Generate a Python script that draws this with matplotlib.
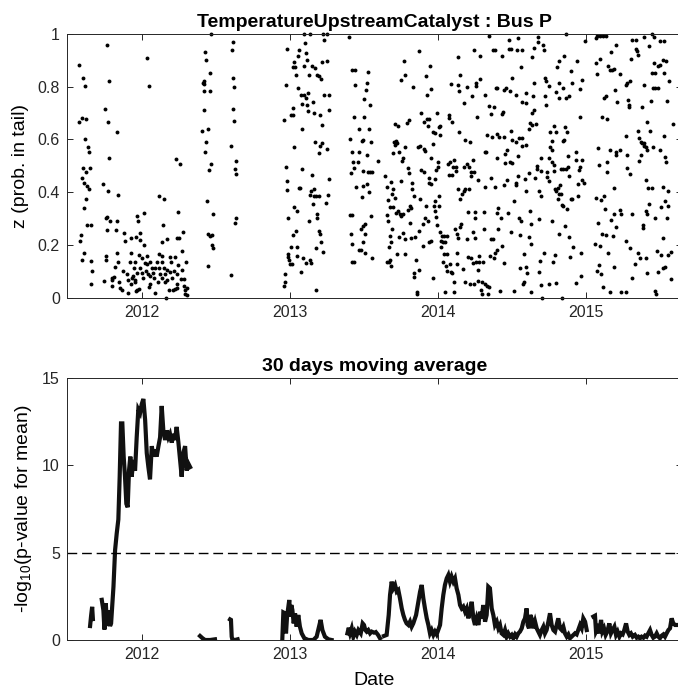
import numpy as np
import matplotlib.pyplot as plt

plt.rcParams['font.family'] = ['Liberation Sans', 'DejaVu Sans']
plt.rcParams['mathtext.default'] = 'regular'

# top panel: daily z values (decimal year, prob. in tail)
pts = [
    # summer 2011 - spring 2012
    (2011.768, .959), (2011.577, .882), (2012.038, .909), (2011.604, .833), (2011.617, .801),
    (2011.777, .820), (2012.047, .804), (2011.752, .715), (2011.579, .667), (2011.599, .681),
    (2011.626, .676), (2011.773, .668), (2011.833, .628), (2011.615, .601), (2011.637, .570),
    (2011.642, .551), (2011.782, .529), (2012.230, .527), (2012.259, .508), (2011.601, .491),
    (2011.651, .491), (2011.624, .476), (2011.597, .453), (2011.613, .434), (2011.628, .425),
    (2011.644, .413), (2011.741, .432), (2011.775, .404), (2011.838, .391), (2012.117, .387),
    (2012.151, .376), (2011.622, .376), (2011.608, .342), (2012.248, .325), (2012.014, .323),
    (2011.971, .309), (2011.764, .305), (2011.757, .301), (2011.784, .292), (2011.831, .289),
    (2011.977, .291), (2011.628, .276), (2011.655, .276), (2012.146, .276), (2011.764, .258),
    (2011.827, .256), (2011.878, .244), (2011.928, .225), (2011.962, .229), (2011.986, .246),
    (2011.592, .238), (2012.282, .251), (2012.255, .225), (2012.241, .225), (2012.173, .224),
    (2012.137, .213), (2011.583, .215), (2011.887, .215), (2011.991, .218), (2012.014, .200),
    (2012.275, .177), (2011.608, .171), (2011.757, .159), (2011.833, .171), (2011.926, .171),
    (2011.984, .162), (2012.002, .149), (2012.034, .158), (2012.115, .166), (2012.140, .158),
    (2012.191, .156), (2012.225, .156), (2011.595, .143), (2011.761, .143), (2011.658, .138),
    (2011.842, .137), (2011.919, .134), (2011.957, .135), (2012.020, .130), (2012.038, .127),
    (2012.056, .137), (2012.106, .134), (2012.137, .134), (2012.200, .134), (2012.248, .124),
    (2012.300, .137), (2011.818, .116), (2011.874, .101), (2011.948, .111), (2011.989, .114),
    (2012.027, .101), (2012.070, .113), (2012.092, .114), (2012.115, .111), (2012.149, .114),
    (2012.169, .105), (2012.221, .101), (2012.273, .105), (2011.662, .103), (2011.797, .076),
    (2011.815, .078), (2011.903, .089), (2011.939, .084), (2011.968, .094), (2012.002, .092),
    (2012.041, .089), (2012.077, .092), (2012.124, .089), (2012.158, .089), (2012.191, .099),
    (2012.241, .089), (2011.908, .068), (2011.935, .073), (2011.955, .067), (2012.011, .073),
    (2012.056, .084), (2012.083, .073), (2012.140, .073), (2012.169, .067), (2012.207, .076),
    (2012.264, .071), (2012.284, .071), (2011.748, .062), (2011.802, .067), (2011.849, .058),
    (2011.928, .051), (2011.953, .058), (2012.056, .051), (2012.113, .058), (2012.160, .061),
    (2012.236, .051), (2012.286, .046), (2011.660, .053), (2011.797, .043), (2011.854, .035),
    (2011.869, .029), (2011.910, .016), (2011.966, .029), (2011.980, .032), (2012.052, .042),
    (2012.090, .016), (2012.182, .029), (2012.214, .029), (2012.227, .033), (2012.241, .035),
    (2012.293, .029), (2012.309, .035), (2012.291, .013), (2012.304, .011), (2012.164, .000),
    (2011.962, .027),
    # summer 2012
    (2012.468, 1.0), (2012.615, .968), (2012.610, .941), (2012.430, .930), (2012.437, .900),
    (2012.464, .854), (2012.419, .820), (2012.414, .814), (2012.423, .811), (2012.419, .782),
    (2012.459, .782), (2012.615, .833), (2012.624, .799), (2012.421, .713), (2012.619, .716),
    (2012.626, .671), (2012.410, .633), (2012.448, .638), (2012.435, .592), (2012.606, .575),
    (2012.428, .551), (2012.640, .519), (2012.466, .508), (2012.453, .484), (2012.631, .489),
    (2012.635, .468), (2012.441, .368), (2012.482, .318), (2012.635, .304), (2012.631, .284),
    (2012.446, .242), (2012.459, .235), (2012.473, .239), (2012.475, .200), (2012.480, .187),
    (2012.446, .122), (2012.606, .086),
    # winter 2012/13
    (2013.095, 1.0), (2013.135, 1.0), (2013.225, 1.0), (2013.252, 1.0), (2013.106, .966),
    (2013.234, .976), (2012.980, .943), (2013.065, .941), (2013.113, .929), (2013.056, .915),
    (2013.029, .894), (2013.117, .900), (2013.025, .876), (2013.038, .876), (2013.097, .878),
    (2013.153, .878), (2013.173, .870), (2013.221, .895), (2013.250, .899), (2013.043, .844),
    (2013.133, .843), (2013.185, .843), (2013.196, .839), (2013.212, .829), (2012.973, .806),
    (2013.054, .797), (2013.077, .770), (2013.095, .770), (2013.108, .759), (2013.122, .776),
    (2013.234, .770), (2013.264, .770), (2013.025, .719), (2013.009, .694), (2013.020, .692),
    (2013.081, .734), (2013.117, .732), (2013.160, .741), (2013.124, .709), (2013.162, .699),
    (2013.203, .694), (2013.264, .713), (2012.962, .672), (2013.221, .654), (2013.081, .641),
    (2013.171, .590), (2013.203, .575), (2013.218, .586), (2013.029, .570), (2013.252, .563),
    (2013.196, .547), (2012.977, .494), (2013.086, .489), (2013.153, .467), (2013.266, .449),
    (2012.982, .441), (2012.984, .410), (2013.063, .415), (2013.070, .415), (2013.167, .411),
    (2013.146, .403), (2013.137, .391), (2013.162, .386), (2013.180, .387), (2013.200, .386),
    (2013.259, .391), (2013.158, .357), (2013.248, .361), (2013.032, .343), (2013.050, .327),
    (2013.187, .318), (2013.185, .304), (2012.991, .304), (2013.131, .292), (2013.043, .254),
    (2013.025, .238), (2013.196, .254), (2013.207, .241), (2013.212, .213), (2013.009, .194),
    (2013.050, .194), (2013.178, .190), (2013.227, .173), (2012.986, .167), (2012.986, .154),
    (2012.995, .143), (2013.005, .128), (2013.018, .128), (2013.050, .158), (2013.088, .151),
    (2013.110, .133), (2013.140, .143), (2013.146, .130), (2013.074, .099), (2012.968, .089),
    (2012.968, .061), (2012.964, .044), (2013.180, .029),
    # late spring 2013
    (2013.403, .989), (2013.423, .865), (2013.439, .862), (2013.444, .806), (2013.435, .687),
    (2013.466, .639), (2013.408, .603), (2013.423, .551), (2013.471, .554), (2013.430, .513),
    (2013.464, .513), (2013.435, .491), (2013.414, .472), (2013.446, .418), (2013.408, .314),
    (2013.421, .314), (2013.414, .241), (2013.421, .204), (2013.471, .181), (2013.423, .137),
    (2013.437, .137),
    # mid 2013 - mid 2014
    (2013.532, .856), (2013.525, .815), (2013.514, .789), (2013.505, .754), (2013.543, .732),
    (2013.502, .685), (2013.536, .641), (2013.489, .595), (2013.498, .597), (2013.547, .590),
    (2013.520, .542), (2013.597, .520), (2013.498, .482), (2013.527, .476), (2013.543, .476),
    (2013.554, .475), (2013.525, .433), (2013.498, .422), (2013.536, .399), (2013.489, .380),
    (2013.547, .308), (2013.509, .280), (2013.495, .272), (2013.482, .259), (2013.507, .241),
    (2013.493, .213), (2013.480, .181), (2013.509, .171), (2013.554, .149), (2013.773, .896),
    (2013.872, .934), (2013.946, .878), (2013.782, .843), (2013.755, .825), (2013.919, .839),
    (2013.833, .799), (2013.955, .790), (2013.928, .767), (2013.885, .699), (2013.995, .700),
    (2013.806, .672), (2013.791, .662), (2013.930, .677), (2013.939, .677), (2013.908, .665),
    (2013.714, .658), (2013.734, .651), (2013.935, .652), (2014.077, .694), (2014.079, .681),
    (2014.095, .667), (2014.018, .652), (2014.007, .649), (2013.966, .630), (2013.982, .625),
    (2014.016, .618), (2014.142, .627), (2014.187, .599), (2014.216, .589), (2013.703, .592),
    (2013.718, .595), (2013.725, .586), (2013.714, .578), (2013.782, .570), (2013.865, .572),
    (2013.883, .576), (2013.905, .565), (2013.917, .557), (2013.966, .582), (2013.700, .547),
    (2013.736, .551), (2013.764, .529), (2013.757, .520), (2013.957, .528), (2014.005, .513),
    (2014.072, .506), (2014.083, .516), (2014.110, .523), (2014.104, .495), (2014.124, .481),
    (2014.124, .494), (2014.178, .495), (2014.196, .506), (2014.209, .496), (2014.241, .523),
    (2013.800, .490), (2013.809, .472), (2013.887, .485), (2013.908, .478), (2013.989, .485),
    (2014.000, .495), (2014.074, .467), (2014.097, .466), (2014.223, .463), (2014.227, .477),
    (2014.243, .475), (2013.646, .463), (2013.655, .420), (2013.682, .437), (2013.698, .411),
    (2013.694, .395), (2013.750, .442), (2013.829, .435), (2013.944, .453), (2013.939, .435),
    (2013.955, .433), (2013.984, .451), (2014.270, .447), (2013.829, .411), (2013.838, .384),
    (2013.881, .376), (2014.007, .387), (2013.980, .365), (2013.973, .348), (2014.011, .346),
    (2013.712, .377), (2013.664, .370), (2013.676, .343), (2013.696, .343), (2013.716, .320),
    (2013.732, .327), (2013.745, .318), (2013.752, .309), (2013.768, .316), (2013.802, .332),
    (2013.811, .349), (2013.818, .339), (2013.660, .314), (2013.662, .291), (2013.691, .259),
    (2013.678, .233), (2013.673, .194), (2013.682, .213), (2013.741, .232), (2013.764, .244),
    (2013.777, .223), (2013.815, .284), (2013.822, .228), (2013.845, .230), (2013.874, .254),
    (2013.921, .346), (2013.899, .280), (2013.914, .301), (2013.932, .289), (2013.980, .330),
    (2013.989, .305), (2013.998, .276), (2013.955, .215), (2013.941, .211), (2013.901, .196),
    (2014.140, .411), (2014.151, .373), (2014.164, .395), (2014.176, .405), (2014.187, .411),
    (2014.209, .414), (2014.203, .324), (2014.255, .324), (2014.313, .324), (2014.252, .301),
    (2014.158, .280), (2014.151, .270), (2014.117, .259), (2014.133, .241), (2014.140, .225),
    (2014.016, .251), (2014.029, .235), (2014.041, .233), (2014.061, .235), (2014.023, .215),
    (2014.034, .211), (2014.052, .211), (2014.023, .194), (2014.045, .165), (2014.063, .166),
    (2014.128, .170), (2014.038, .134), (2014.059, .122), (2014.083, .128), (2014.128, .129),
    (2014.090, .099), (2014.061, .103), (2014.095, .092), (2014.173, .109), (2014.203, .153),
    (2014.223, .149), (2014.241, .130), (2014.259, .135), (2014.282, .135), (2014.304, .134),
    (2014.270, .105), (2014.196, .224), (2014.239, .249), (2014.252, .225), (2014.313, .259),
    (2014.277, .158), (2014.216, .053), (2014.187, .058), (2014.245, .051), (2014.275, .065),
    (2014.297, .058), (2014.318, .051), (2014.336, .046), (2014.345, .042), (2014.113, .059),
    (2014.113, .023), (2014.052, .020), (2014.293, .028), (2014.300, .015), (2014.342, .013),
    (2014.421, .027), (2013.678, .142), (2013.669, .134), (2013.685, .122), (2013.658, .137),
    (2013.851, .143), (2013.874, .105), (2013.838, .095), (2013.838, .077), (2013.968, .076),
    (2013.858, .023), (2013.863, .015), (2013.723, .167), (2013.782, .167), (2014.140, .911),
    (2014.151, .843), (2014.092, .810), (2014.140, .808), (2014.142, .785), (2014.196, .800),
    (2014.257, .813), (2014.257, .801), (2014.284, .830), (2014.234, .763), (2014.176, .738),
    (2014.268, .685), (2014.322, .770), (2014.245, .938), (2014.286, .915), (2014.349, .991),
    (2014.372, .938), (2014.385, .938), (2014.437, .915), (2014.480, .943), (2014.480, .978),
    (2014.392, .797), (2014.399, .795), (2014.448, .789), (2014.464, .796), (2014.349, .728),
    (2014.383, .724), (2014.360, .696), (2014.435, .696), (2014.444, .706), (2014.331, .618),
    (2014.369, .611), (2014.401, .620), (2014.412, .610), (2014.448, .610), (2014.320, .551),
    (2014.327, .554), (2014.399, .529), (2014.457, .544), (2014.466, .561), (2014.453, .510),
    (2014.358, .453), (2014.320, .418), (2014.390, .419), (2014.450, .428), (2014.471, .446),
    (2014.410, .342), (2014.403, .323), (2014.426, .304), (2014.477, .323), (2014.358, .222),
    (2014.374, .222), (2014.399, .181), (2014.390, .171), (2014.381, .152), (2014.435, .196),
    (2014.450, .130), (2014.354, .158), (2014.410, .261),
    # mid 2014 - end 2014
    (2014.869, 1.0), (2014.995, .975), (2014.676, .990), (2014.541, .985), (2014.678, .968),
    (2014.712, .957), (2014.649, .947), (2014.536, .941), (2014.572, .938), (2014.495, .943),
    (2014.716, .938), (2014.637, .914), (2014.854, .915), (2014.820, .896), (2014.944, .899),
    (2014.565, .875), (2014.809, .873), (2014.901, .858), (2014.505, .835), (2014.727, .833),
    (2014.734, .823), (2014.651, .814), (2014.822, .814), (2014.905, .814), (2014.977, .827),
    (2014.752, .804), (2014.847, .795), (2014.797, .780), (2014.959, .791), (2014.491, .782),
    (2014.532, .770), (2014.599, .775), (2014.644, .766), (2014.727, .765), (2014.818, .759),
    (2014.885, .765), (2014.869, .757), (2014.572, .744), (2014.595, .737), (2014.734, .732),
    (2014.651, .713), (2014.640, .700), (2014.962, .686), (2014.626, .662), (2014.640, .656),
    (2014.664, .659), (2014.615, .639), (2014.788, .652), (2014.761, .628), (2014.800, .628),
    (2014.863, .646), (2014.876, .627), (2014.498, .633), (2014.854, .599), (2014.845, .595),
    (2014.505, .599), (2014.550, .605), (2014.570, .604), (2014.775, .595), (2014.532, .590),
    (2014.572, .577), (2014.599, .580), (2014.761, .570), (2014.770, .561), (2014.541, .539),
    (2014.696, .530), (2014.752, .530), (2014.883, .538), (2014.935, .551), (2014.491, .516),
    (2014.500, .510), (2014.669, .501), (2014.669, .489), (2014.770, .513), (2014.788, .504),
    (2014.831, .489), (2014.847, .489), (2014.869, .489), (2014.883, .494), (2014.937, .523),
    (2014.973, .523), (2014.959, .494), (2014.955, .484), (2014.543, .463), (2014.527, .434),
    (2014.532, .428), (2014.588, .449), (2014.617, .472), (2014.658, .453), (2014.700, .482),
    (2014.741, .475), (2014.786, .482), (2014.741, .456), (2014.752, .441), (2014.885, .463),
    (2014.973, .447), (2014.986, .434), (2014.946, .430), (2014.595, .406), (2014.687, .403),
    (2014.698, .387), (2014.793, .411), (2014.815, .415), (2014.829, .429), (2014.802, .403),
    (2014.820, .394), (2014.831, .394), (2014.899, .375), (2014.908, .375), (2014.946, .386),
    (2014.813, .375), (2014.518, .367), (2014.838, .352), (2014.847, .348), (2014.874, .335),
    (2014.622, .327), (2014.550, .301), (2014.563, .289), (2014.682, .299), (2014.773, .291),
    (2014.628, .278), (2014.863, .271), (2014.495, .251), (2014.559, .238), (2014.615, .230),
    (2014.633, .204), (2014.820, .243), (2014.887, .229), (2014.581, .167), (2014.721, .170),
    (2014.795, .162), (2014.777, .135), (2014.917, .191), (2014.894, .156), (2014.968, .168),
    (2014.691, .141), (2014.595, .118), (2014.556, .114), (2014.601, .095), (2014.682, .096),
    (2014.577, .051), (2014.583, .058), (2014.700, .048), (2014.755, .052), (2014.802, .054),
    (2014.932, .054), (2014.966, .084), (2014.514, .025), (2014.631, .023), (2014.703, .000),
    (2014.840, .000),
    # 2015
    (2015.068, .985), (2015.077, .991), (2015.095, .991), (2015.117, .991), (2015.137, .991),
    (2015.311, .978), (2015.338, .978), (2015.392, .989), (2015.446, 1.0), (2015.459, .989),
    (2015.500, .972), (2015.529, .972), (2015.207, .959), (2015.426, .956), (2015.171, .930),
    (2015.342, .943), (2015.347, .934), (2015.354, .922), (2015.306, .905), (2015.095, .905),
    (2015.068, .890), (2015.153, .877), (2015.162, .862), (2015.178, .862), (2015.191, .867),
    (2015.230, .849), (2015.077, .848), (2015.459, .890), (2015.486, .877), (2015.505, .884),
    (2015.525, .901), (2015.545, .899), (2015.450, .852), (2015.466, .852), (2015.529, .854),
    (2015.563, .820), (2015.270, .805), (2015.279, .816), (2015.302, .820), (2015.455, .795),
    (2015.471, .797), (2015.486, .795), (2015.396, .808), (2015.126, .759), (2015.140, .765),
    (2015.198, .789), (2015.212, .744), (2015.288, .751), (2015.293, .732), (2015.293, .723),
    (2015.383, .723), (2015.439, .747), (2015.552, .747), (2015.108, .687), (2015.142, .677),
    (2015.417, .666), (2015.588, .659), (2015.273, .615), (2015.356, .633), (2015.435, .632),
    (2015.527, .614), (2015.360, .605), (2015.374, .590), (2015.383, .586), (2015.396, .586),
    (2015.392, .577), (2015.408, .573), (2015.414, .561), (2015.455, .573), (2015.505, .562),
    (2015.086, .567), (2015.167, .561), (2015.203, .552), (2015.207, .542), (2015.234, .561),
    (2015.279, .542), (2015.374, .542), (2015.360, .519), (2015.536, .532), (2015.545, .516),
    (2015.090, .504), (2015.144, .516), (2015.279, .491), (2015.302, .470), (2015.146, .475),
    (2015.405, .447), (2015.423, .415), (2015.448, .415), (2015.520, .420), (2015.554, .403),
    (2015.189, .415), (2015.072, .377), (2015.101, .371), (2015.124, .384), (2015.536, .367),
    (2015.509, .344), (2015.554, .349), (2015.428, .356), (2015.410, .327), (2015.414, .319),
    (2015.131, .335), (2015.194, .318), (2015.230, .333), (2015.236, .316), (2015.173, .295),
    (2015.313, .319), (2015.468, .301), (2015.550, .301), (2015.081, .284), (2015.203, .267),
    (2015.387, .276), (2015.387, .263), (2015.520, .225), (2015.113, .242), (2015.140, .237),
    (2015.185, .235), (2015.275, .215), (2015.061, .205), (2015.095, .195), (2015.297, .190),
    (2015.356, .171), (2015.482, .177), (2015.511, .162), (2015.556, .162), (2015.579, .172),
    (2015.153, .168), (2015.369, .149), (2015.410, .149), (2015.079, .101), (2015.090, .124),
    (2015.104, .089), (2015.191, .118), (2015.333, .127), (2015.414, .092), (2015.489, .096),
    (2015.523, .111), (2015.538, .118), (2015.574, .070), (2015.315, .076), (2015.117, .042),
    (2015.167, .023), (2015.241, .023), (2015.273, .023), (2015.468, .027), (2015.473, .013),
]
scatter_year = [p[0] for p in pts]
scatter_z = [p[1] for p in pts]

# bottom panel: 30-day moving average of -log10(p), nan = no data
nan = np.nan
ma_year = [
    2011.651, 2011.658, 2011.665, 2011.670, 2011.700,
    2011.730, 2011.741, 2011.748, 2011.757, 2011.766, 2011.775, 2011.786, 2011.793,
    2011.809, 2011.820, 2011.831, 2011.842, 2011.851, 2011.860, 2011.869, 2011.878,
    2011.887, 2011.896, 2011.905, 2011.914, 2011.923, 2011.932, 2011.944, 2011.955,
    2011.966, 2011.977, 2011.989, 2012.000, 2012.011, 2012.023, 2012.034, 2012.045,
    2012.056, 2012.068, 2012.079, 2012.090, 2012.101, 2012.113, 2012.124, 2012.135,
    2012.146, 2012.158, 2012.169, 2012.180, 2012.191, 2012.203, 2012.214, 2012.225,
    2012.236, 2012.248, 2012.259, 2012.270, 2012.281, 2012.293, 2012.304, 2012.315,
    2012.327, 2012.360,
    2012.394, 2012.411, 2012.428, 2012.462, 2012.495, 2012.550,
    2012.597, 2012.603, 2012.608, 2012.612, 2012.630, 2012.648, 2012.800,
    2012.950, 2012.957, 2012.968, 2012.975, 2012.982, 2012.991, 2012.997, 2013.004,
    2013.011, 2013.018, 2013.027, 2013.036, 2013.047, 2013.058, 2013.069, 2013.081,
    2013.099, 2013.126, 2013.160, 2013.182, 2013.198, 2013.209, 2013.221, 2013.238,
    2013.261, 2013.283, 2013.340,
    2013.390, 2013.399, 2013.408, 2013.419, 2013.430, 2013.441, 2013.453, 2013.464,
    2013.480, 2013.493, 2013.502, 2013.511, 2013.520, 2013.531, 2013.543, 2013.554,
    2013.565, 2013.575,
    2013.583, 2013.597, 2013.610, 2013.625,
    2013.637, 2013.655, 2013.669, 2013.678, 2013.689, 2013.700, 2013.712, 2013.723,
    2013.734, 2013.745, 2013.757, 2013.768, 2013.779, 2013.790, 2013.802, 2013.813,
    2013.824, 2013.835, 2013.854, 2013.869, 2013.881, 2013.892, 2013.903, 2013.914,
    2013.926, 2013.937, 2013.948, 2013.959, 2013.971, 2013.982, 2013.993, 2014.004,
    2014.016, 2014.027, 2014.038, 2014.049, 2014.061, 2014.072, 2014.083, 2014.094,
    2014.106, 2014.117, 2014.128, 2014.140, 2014.151, 2014.162, 2014.173, 2014.185,
    2014.196, 2014.207, 2014.218, 2014.230, 2014.241, 2014.252, 2014.263, 2014.275,
    2014.286, 2014.297, 2014.308, 2014.320, 2014.331, 2014.342, 2014.353, 2014.365,
    2014.376, 2014.387, 2014.399, 2014.410, 2014.421, 2014.432, 2014.444, 2014.455,
    2014.466, 2014.477, 2014.489, 2014.500, 2014.511, 2014.523, 2014.534, 2014.545,
    2014.556, 2014.568, 2014.579, 2014.590, 2014.601, 2014.608, 2014.617, 2014.626,
    2014.635, 2014.646, 2014.658, 2014.669, 2014.680, 2014.691, 2014.703, 2014.714,
    2014.725, 2014.736, 2014.748, 2014.759, 2014.770, 2014.782, 2014.793, 2014.804,
    2014.815, 2014.827, 2014.838, 2014.849, 2014.860, 2014.872, 2014.883, 2014.894,
    2014.905, 2014.917, 2014.928, 2014.939, 2014.950, 2014.962, 2014.973, 2014.984,
    2014.996, 2015.007, 2015.030,
    2015.052, 2015.063, 2015.070, 2015.081, 2015.092, 2015.104, 2015.113, 2015.124,
    2015.135, 2015.146, 2015.160, 2015.171, 2015.182, 2015.194, 2015.205, 2015.216,
    2015.228, 2015.239, 2015.250, 2015.261, 2015.273, 2015.284, 2015.295, 2015.306,
    2015.318, 2015.333, 2015.345, 2015.356, 2015.367, 2015.378, 2015.390, 2015.401,
    2015.412, 2015.423, 2015.435, 2015.446, 2015.457, 2015.468, 2015.480, 2015.491,
    2015.502, 2015.514, 2015.525, 2015.536, 2015.547, 2015.559, 2015.570, 2015.581,
    2015.592, 2015.604, 2015.615,
]
ma_val = [
    0.8, 1.4, 1.9, 1.2, nan,
    2.3, 1.7, 0.6, 2.1, 0.8, 1.7, 0.8, 0.95,
    3.05, 5.15, 6.1, 6.9, 9.35, 12.4, 12.4, 10.5,
    9.35, 7.8, 7.6, 9.7, 10.5, 9.35, 10.3, 9.7,
    11.6, 13.2, 13.0, 13.5, 13.8, 12.6, 10.7, 9.9,
    9.2, 11.1, 10.5, 10.9, 10.5, 11.1, 11.6, 13.4,
    12.0, 11.45, 12.0, 11.6, 11.8, 11.3, 11.8, 11.45,
    12.2, 11.3, 10.3, 9.35, 10.7, 11.1, 9.7, 10.1,
    9.9, nan,
    0.23, 0.1, 0.0, 0.0, 0.04, nan,
    1.18, 1.15, 0.19, 0.04, 0.0, 0.04, nan,
    0.04, 1.58, 1.53, 0.38, 1.34, 1.9, 2.29, 1.34,
    2.0, 1.72, 0.95, 1.53, 0.76, 1.43, 0.76, 0.38,
    0.1, 0.0, 0.0, 0.19, 0.76, 1.15, 0.57, 0.19,
    0.04, 0.0, nan,
    0.38, 0.7, 0.38, 0.67, 0.19, 0.48, 0.29, 0.57,
    0.38, 0.95, 0.86, 0.57, 0.48, 0.57, 0.38, 0.48,
    0.44, nan,
    0.44, 0.29, 0.1, nan,
    0.23, 0.29, 1.43, 2.58, 3.34, 2.96, 3.15, 2.77,
    2.86, 2.39, 1.81, 1.43, 1.15, 0.95, 0.86, 1.05,
    0.76, 0.95, 1.43, 2.19, 2.77, 3.15, 2.39, 1.81,
    1.24, 0.86, 0.38, 0.57, 0.29, 0.48, 0.32, 0.57,
    0.86, 1.81, 2.58, 3.15, 3.53, 3.72, 3.34, 3.63,
    3.34, 3.53, 2.96, 2.58, 2.0, 1.81, 1.91, 1.62,
    1.81, 1.24, 1.62, 2.19, 1.24, 0.86, 1.24, 0.86,
    1.62, 1.24, 2.0, 1.05, 1.43, 3.05, 2.96, 1.81,
    1.43, 0.86, 1.05, 0.67, 0.86, 0.38, 0.29, 0.57,
    0.19, 0.38, 0.19, 0.29, 0.1, 0.32, 0.19, 0.38,
    0.48, 0.67, 1.05, 1.24, 1.81, 0.86, 0.67, 1.43,
    1.24, 0.67, 1.05, 0.67, 0.48, 0.29, 0.57, 0.76,
    0.38, 0.57, 1.05, 1.53, 0.86, 0.57, 0.48, 0.86,
    1.24, 0.67, 0.57, 0.76, 0.38, 0.19, 0.32, 0.1,
    0.19, 0.29, 0.38, 0.32, 0.57, 0.86, 0.67, 1.24,
    1.05, 0.57, nan,
    1.34, 1.39, 0.48, 0.67, 0.38, 1.15, 0.48, 0.67,
    0.29, 0.48, 0.95, 0.38, 0.57, 0.76, 0.29, 0.48,
    0.19, 0.38, 0.32, 0.57, 0.95, 0.48, 0.29, 0.38,
    0.19, 0.29, 0.13, 0.19, 0.1, 0.19, 0.13, 0.25,
    0.19, 0.38, 0.57, 0.29, 0.13, 0.19, 0.38, 0.19,
    0.1, 0.25, 0.32, 0.19, 0.38, 0.57, 0.67, 1.24,
    0.95, 0.86, 0.86,
]
threshold = 5
year_ticks = [2012, 2013, 2014, 2015]

axis_col = '#262626'
fig = plt.figure(figsize=(6.78, 6.96), dpi=100)
ax1 = fig.add_axes([66.7 / 678, 1 - 297.7 / 696, 615.3 / 678, 263.7 / 696])
ax2 = fig.add_axes([66.7 / 678, 1 - 640 / 696, 615.3 / 678, 262 / 696])

ax1.plot(scatter_year, scatter_z, 'o', color='k', ms=2.8, mew=0, clip_on=False)
ax1.set_ylim(0, 1)
ax1.set_yticks([0, 0.2, 0.4, 0.6, 0.8, 1])
ax1.set_yticklabels(['0', '0.2', '0.4', '0.6', '0.8', '1'])
ax1.set_ylabel('z (prob. in tail)', fontsize=14, labelpad=6)
ax1.set_title('TemperatureUpstreamCatalyst : Bus P', fontsize=14, fontweight='bold', pad=5)

ax2.plot(ma_year, ma_val, color='#111111', lw=3, solid_joinstyle='miter')
ax2.axhline(threshold, color='k', lw=1, dashes=(7, 3.5))
ax2.set_ylim(0, 15)
ax2.set_yticks([0, 5, 10, 15])
ax2.set_ylabel('-log$_{10}$(p-value for mean)', fontsize=14, labelpad=6)
ax2.set_xlabel('Date', fontsize=14, labelpad=7)
ax2.set_title('30 days moving average', fontsize=14, fontweight='bold', pad=5)

for ax in (ax1, ax2):
    ax.set_xlim(2011.493, 2015.651)
    ax.set_xticks(year_ticks)
    ax.set_xticklabels([str(y) for y in year_ticks])
    ax.tick_params(direction='in', length=4.5, width=0.7, top=True, right=True,
                   labelsize=11.5, pad=5, colors=axis_col)
    for s in ax.spines.values():
        s.set_color(axis_col)
        s.set_linewidth(0.7)

fig.savefig('out.png', dpi=100)
